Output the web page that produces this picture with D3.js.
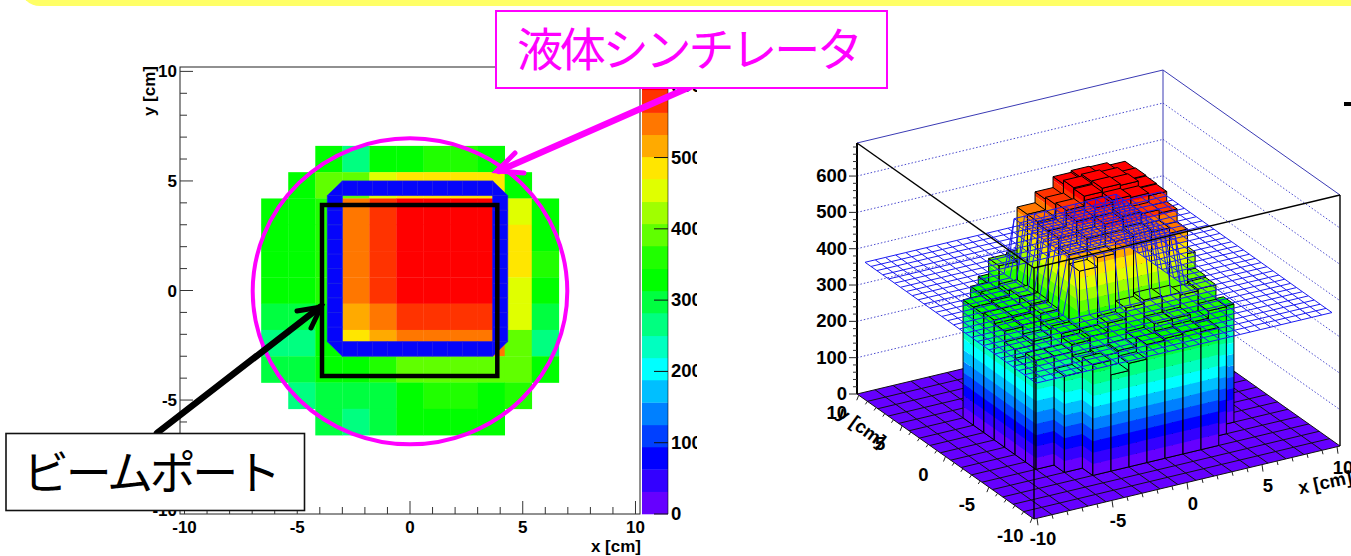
<!DOCTYPE html>
<html>
<head>
<meta charset="utf-8">
<script src="https://cdn.jsdelivr.net/npm/d3@7"></script>
<style>
	html, body { margin: 0; padding: 0; background: #fff; overflow: hidden; }
	svg { display: block; }
	text { font-family: "Liberation Sans", Arial, sans-serif; font-weight: bold; font-size: 17px; fill: #000; }
	.big { font-size: 18.5px; }
	.jp { font-family: "Noto Sans CJK JP", sans-serif; font-weight: 400; font-size: 46px; }
</style>
</head>
<body>
<div id="graph-container"></div>
<script>
// bin values, rows run from y = +6.6 down to y = -6.6
const binValues = [
	[0, 0, 325, 265, 330, 335, 350, 352, 335, 0, 0],
	[0, 330, 395, 400, 450, 480, 482, 480, 478, 330, 0],
	[325, 335, 345, 545, 575, 605, 610, 608, 600, 445, 330],
	[325, 330, 350, 545, 580, 615, 620, 615, 602, 485, 335],
	[330, 330, 350, 540, 585, 612, 622, 618, 600, 485, 350],
	[320, 325, 345, 540, 575, 600, 610, 605, 598, 455, 325],
	[290, 300, 320, 515, 548, 575, 585, 580, 570, 440, 285],
	[265, 265, 330, 490, 515, 548, 555, 550, 535, 395, 260],
	[300, 300, 320, 330, 355, 385, 395, 392, 385, 390, 325],
	[0, 265, 290, 295, 300, 320, 350, 352, 330, 350, 0],
	[0, 0, 305, 265, 285, 325, 330, 335, 325, 0, 0]
];
const binEdges = [-6.6, -5.4, -4.2, -3, -1.8, -0.6, 0.6, 1.8, 3, 4.2, 5.4, 6.6];
const floorEdges = [-10.2, -9, -7.8, -6.6, -5.4, -4.2, -3, -1.8, -0.6, 0.6, 1.8, 3, 4.2, 5.4, 6.6, 7.8, 9, 10.2];
const palette = ["#6600ff", "#3300ff", "#0000ff", "#0040ff", "#0080ff", "#00bfff", "#00ffff", "#00ffc0", "#00ff80", "#00ff40",
	"#00ff00", "#20ff00", "#60ff00", "#a0ff00", "#e0ff00", "#ffe600", "#ffaa00", "#ff7700", "#ff3300", "#ff0000"];
const levelEdges = [0, 31.3, 62.6, 94, 125, 156.5, 188, 219, 250, 282, 313, 344, 376, 407, 438, 470, 501, 532, 563, 595, 627];
const axisTicks = [-10, -5, 0, 5, 10];
const axisMinor = [-9, -8, -7, -6, -4, -3, -2, -1, 1, 2, 3, 4, 6, 7, 8, 9];
const barTicks = [0, 100, 200, 300, 400, 500, 600];
const zMinor = [20, 40, 60, 80, 120, 140, 160, 180, 220, 240, 260, 280, 320, 340, 360, 380, 420, 440, 460, 480, 520, 540, 560, 580, 620, 640, 660, 680];
// wire surface overlay: flat sheet with a raised plate, on a 2/3 cm lattice
const meshCoords = [-9.667, -9, -8.333, -7.667, -7, -6.333, -5.667, -5, -4.333, -3.667, -3, -2.333, -1.667, -1, -0.333,
	0.333, 1, 1.667, 2.333, 3, 3.667, 4.333, 5, 5.667, 6.333, 7, 7.667, 8.333, 9, 9.667];
const meshBase = 365;
const meshPlate = 510;
const plateX = [-3, 3.667];
const plateY = [-2.333, 4.333];

const w = 1351;
const h = 556;

const svg = d3.select("#graph-container").append("svg").attr("width", w).attr("height", h);
const color = d3.scaleThreshold().domain(levelEdges.slice(1, -1)).range(palette);

const isHigh = (x, y) => x >= plateX[0] && x <= plateX[1] && y >= plateY[0] && y <= plateY[1];
const meshZ = (x, y) => isHigh(x, y) ? meshPlate : meshBase;

// banner at top of the slide
svg.append("rect").attr("x", 20).attr("y", -40).attr("width", w).attr("height", 46).attr("rx", 20).attr("fill", "#ffff66");

drawMap();
drawLego();
drawNotes();

function drawMap() {
	const g = svg.append("g");
	const x = d3.scaleLinear().domain([-10.2, 10.2]).range([180, 640]);
	const y = d3.scaleLinear().domain([-10.2, 10.2]).range([514, 67]);
	const z = d3.scaleLinear().domain([0, 627]).range([514, 67]);

	// colz cells
	const cells = [];
	binValues.forEach((row, r) => row.forEach((v, c) => { if (v > 0) cells.push({ r, c, v }); }));
	g.selectAll("rect.cell").data(cells).enter().append("rect")
		.attr("class", "cell")
		.attr("x", d => x(binEdges[d.c]))
		.attr("width", d => x(binEdges[d.c + 1]) - x(binEdges[d.c]) + 0.3)
		.attr("y", d => y(binEdges[11 - d.r]))
		.attr("height", d => y(binEdges[10 - d.r]) - y(binEdges[11 - d.r]) + 0.3)
		.attr("fill", d => color(d.v));

	// sloped part of the wire surface seen from above
	const quads = [];
	for (let i = 0; i < meshCoords.length - 1; i++) {
		for (let j = 0; j < meshCoords.length - 1; j++) {
			const pts = [[meshCoords[i], meshCoords[j]], [meshCoords[i + 1], meshCoords[j]], [meshCoords[i + 1], meshCoords[j + 1]], [meshCoords[i], meshCoords[j + 1]]];
			const high = pts.map(p => isHigh(p[0], p[1]));
			const n = high.filter(Boolean).length;
			if (n === 0 || n === 4) continue;
			quads.push(n === 1 ? pts.filter((p, k) => !high[(k + 2) % 4]) : pts);
		}
	}
	g.selectAll("polygon.wall").data(quads).enter().append("polygon")
		.attr("class", "wall")
		.attr("points", d => d.map(p => [x(p[0]), y(p[1])].join(",")).join(" "))
		.attr("fill", "#0505fa")
		.attr("stroke", "#1c1cee")
		.attr("stroke-width", 0.7);

	// palette
	const bar = svg.append("g");
	bar.selectAll("rect").data(palette).enter().append("rect")
		.attr("x", 642).attr("width", 26)
		.attr("y", (d, i) => z(levelEdges[i + 1]))
		.attr("height", (d, i) => z(levelEdges[i]) - z(levelEdges[i + 1]) + 0.3)
		.attr("fill", d => d);
	bar.append("line").attr("x1", 668).attr("x2", 668).attr("y1", 67).attr("y2", 514).attr("stroke", "#000").attr("stroke-opacity", 0.55);
	bar.selectAll("line.t").data(barTicks).enter().append("line").attr("class", "t")
		.attr("x1", 654).attr("x2", 668).attr("y1", d => z(d)).attr("y2", d => z(d)).attr("stroke", "#111");
	svg.append("clipPath").attr("id", "barclip").append("rect").attr("x", 669).attr("y", 60).attr("width", 28).attr("height", 470);
	bar.append("g").attr("clip-path", "url(#barclip)").selectAll("text").data(barTicks).enter().append("text")
		.attr("class", "big")
		.attr("x", 671).attr("y", d => z(d) + 6).text(d => d);

	// frame and axes
	g.append("rect").attr("x", 180).attr("y", 67).attr("width", 460).attr("height", 447)
		.attr("fill", "none").attr("stroke", "#222").attr("stroke-width", 1);
	g.selectAll("line.xmaj").data(axisTicks).enter().append("line").attr("class", "xmaj")
		.attr("x1", d => x(d)).attr("x2", d => x(d)).attr("y1", 514).attr("y2", 501).attr("stroke", "#333");
	g.selectAll("line.xmin").data(axisMinor).enter().append("line").attr("class", "xmin")
		.attr("x1", d => x(d)).attr("x2", d => x(d)).attr("y1", 514).attr("y2", 507).attr("stroke", "#333");
	g.selectAll("line.ymaj").data(axisTicks).enter().append("line").attr("class", "ymaj")
		.attr("x1", 180).attr("x2", 193).attr("y1", d => y(d)).attr("y2", d => y(d)).attr("stroke", "#333");
	g.selectAll("line.ymin").data(axisMinor).enter().append("line").attr("class", "ymin")
		.attr("x1", 180).attr("x2", 187).attr("y1", d => y(d)).attr("y2", d => y(d)).attr("stroke", "#333");
	g.selectAll("text.xl").data(axisTicks).enter().append("text").attr("class", "xl")
		.attr("x", d => x(d)).attr("y", 533).attr("text-anchor", "middle").text(d => d);
	g.selectAll("text.yl").data(axisTicks).enter().append("text").attr("class", "yl")
		.attr("x", 177).attr("y", d => y(d) + 6).attr("text-anchor", "end").text(d => d);
	g.append("text").attr("x", 641).attr("y", 552).attr("text-anchor", "end").text("x [cm]");
	g.append("text").attr("transform", "translate(155,66) rotate(-90)").attr("text-anchor", "end").text("y [cm]");
}

function drawLego() {
	const g = svg.append("g");
	const u = d3.scaleLinear().domain([-10.2, 10.2]).range([0, 1]);
	const zs = d3.scaleLinear().domain([0, 691]).range([0, 251]);
	// front corner plus two floor vectors
	const px = (a, b) => 1034 + u(a) * 306 - u(b) * 177;
	const py = (a, b, c) => 519 - u(a) * 73 - u(b) * 125 - zs(c);
	const pt = (a, b, c) => [px(a, b), py(a, b, c)].join(",");

	const xMin = -10.2, xMax = 10.2, zTop = 691;

	// back walls with dotted z lines
	const wallLines = barTicks.slice(1);
	g.selectAll("line.wl").data(wallLines).enter().append("line").attr("class", "wl")
		.attr("x1", px(xMin, xMax)).attr("y1", d => py(xMin, xMax, d))
		.attr("x2", px(xMax, xMax)).attr("y2", d => py(xMax, xMax, d))
		.attr("stroke", "#3535c8").attr("stroke-dasharray", "1.5,2").attr("stroke-width", 0.9);
	g.selectAll("line.wr").data(wallLines).enter().append("line").attr("class", "wr")
		.attr("x1", px(xMax, xMax)).attr("y1", d => py(xMax, xMax, d))
		.attr("x2", px(xMax, xMin)).attr("y2", d => py(xMax, xMin, d))
		.attr("stroke", "#3535c8").attr("stroke-dasharray", "1.5,2").attr("stroke-width", 0.9);
	const backEdges = [
		[xMin, xMax, zTop, xMax, xMax, zTop],
		[xMax, xMax, zTop, xMax, xMin, zTop],
		[xMax, xMax, 0, xMax, xMax, zTop]
	];
	g.selectAll("line.be").data(backEdges).enter().append("line").attr("class", "be")
		.attr("x1", d => px(d[0], d[1])).attr("y1", d => py(d[0], d[1], d[2]))
		.attr("x2", d => px(d[3], d[4])).attr("y2", d => py(d[3], d[4], d[5]))
		.attr("stroke", "#3a3ab4");

	// floor
	g.append("polygon")
		.attr("points", [pt(xMin, xMin, 0), pt(xMax, xMin, 0), pt(xMax, xMax, 0), pt(xMin, xMax, 0)].join(" "))
		.attr("fill", palette[0]);
	g.selectAll("line.fx").data(floorEdges).enter().append("line").attr("class", "fx")
		.attr("x1", d => px(d, xMin)).attr("y1", d => py(d, xMin, 0))
		.attr("x2", d => px(d, xMax)).attr("y2", d => py(d, xMax, 0))
		.attr("stroke", "#111");
	g.selectAll("line.fy").data(floorEdges).enter().append("line").attr("class", "fy")
		.attr("x1", d => px(xMin, d)).attr("y1", d => py(xMin, d, 0))
		.attr("x2", d => px(xMax, d)).attr("y2", d => py(xMax, d, 0))
		.attr("stroke", "#111");

	// bars, back to front so the nearer ones paint over
	const faces = [];
	for (let c = 10; c >= 0; c--) {
		for (let r = 0; r <= 10; r++) {
			const v = binValues[r][c];
			if (v <= 0) continue;
			const x0 = binEdges[c], x1 = binEdges[c + 1], y0 = binEdges[10 - r], y1 = binEdges[11 - r];
			levelEdges.slice(0, -1).forEach((lo, i) => {
				if (lo >= v) return;
				const hi = Math.min(levelEdges[i + 1], v);
				faces.push({ fill: palette[i], stroke: "none", pts: [pt(x0, y0, lo), pt(x0, y1, lo), pt(x0, y1, hi), pt(x0, y0, hi)] });
				faces.push({ fill: palette[i], stroke: "none", pts: [pt(x0, y0, lo), pt(x1, y0, lo), pt(x1, y0, hi), pt(x0, y0, hi)] });
			});
			faces.push({ fill: "none", stroke: "#000", pts: [pt(x0, y1, 0), pt(x0, y1, v), pt(x0, y0, v), pt(x0, y0, 0)] });
			faces.push({ fill: "none", stroke: "#000", pts: [pt(x1, y0, 0), pt(x1, y0, v), pt(x0, y0, v), pt(x0, y0, 0)] });
			faces.push({ fill: color(v), stroke: "#000", pts: [pt(x0, y0, v), pt(x1, y0, v), pt(x1, y1, v), pt(x0, y1, v)] });
		}
	}
	g.selectAll("polyline.face").data(faces).enter().append("polygon").attr("class", "face")
		.attr("points", d => d.pts.join(" "))
		.attr("fill", d => d.fill)
		.attr("stroke", d => d.stroke)
		.attr("stroke-width", 1)
		.attr("stroke-linejoin", "round");

	// wire surface over the bars, drawn a touch wider than the lattice
	const meshStretch = 1.02;
	const meshLine = d3.line()
		.x(d => px(d[0] * meshStretch, d[1] * meshStretch))
		.y(d => py(d[0] * meshStretch, d[1] * meshStretch, meshZ(d[0], d[1])));
	const wires = [];
	meshCoords.forEach(a => {
		wires.push(meshCoords.map(b => [a, b]));
		wires.push(meshCoords.map(b => [b, a]));
	});
	g.selectAll("path.wire").data(wires).enter().append("path").attr("class", "wire")
		.attr("d", meshLine).attr("fill", "none").attr("stroke", "#1a1af2").attr("stroke-width", 1);

	// front box edges
	const frontEdges = [
		[xMin, xMax, zTop, xMin, xMin, zTop],
		[xMin, xMin, zTop, xMax, xMin, zTop],
		[xMin, xMin, 0, xMin, xMin, zTop],
		[xMax, xMin, 0, xMax, xMin, zTop]
	];
	g.selectAll("line.fe").data(frontEdges).enter().append("line").attr("class", "fe")
		.attr("x1", d => px(d[0], d[1])).attr("y1", d => py(d[0], d[1], d[2]))
		.attr("x2", d => px(d[3], d[4])).attr("y2", d => py(d[3], d[4], d[5]))
		.attr("stroke", "#000").attr("stroke-width", 1.4);
	g.append("line").attr("x1", px(xMin, xMax)).attr("x2", px(xMin, xMax))
		.attr("y1", py(xMin, xMax, 0)).attr("y2", py(xMin, xMax, zTop))
		.attr("stroke", "#000").attr("stroke-width", 2);

	// z axis
	const zx = px(xMin, xMax), zy = py(xMin, xMax, 0);
	g.selectAll("line.zmaj").data(barTicks).enter().append("line").attr("class", "zmaj")
		.attr("x1", zx).attr("x2", zx - 8).attr("y1", d => zy - zs(d)).attr("y2", d => zy - zs(d)).attr("stroke", "#222");
	g.selectAll("line.zmin").data(zMinor).enter().append("line").attr("class", "zmin")
		.attr("x1", zx).attr("x2", zx - 4).attr("y1", d => zy - zs(d)).attr("y2", d => zy - zs(d)).attr("stroke", "#333");
	g.selectAll("text.zl").data(barTicks).enter().append("text").attr("class", "zl big")
		.attr("x", zx - 10).attr("y", d => zy - zs(d) + 6).attr("text-anchor", "end").text(d => d);

	// floor axes: ticks and labels
	const tickAll = axisTicks.concat(axisMinor);
	g.selectAll("line.xt").data(tickAll).enter().append("line").attr("class", "xt")
		.attr("x1", d => px(d, xMin)).attr("y1", d => py(d, xMin, 0))
		.attr("x2", d => px(d, xMin) + 1).attr("y2", d => py(d, xMin, 0) + (axisTicks.includes(d) ? 7 : 4))
		.attr("stroke", "#222");
	g.selectAll("line.yt").data(tickAll).enter().append("line").attr("class", "yt")
		.attr("x1", d => px(xMin, d)).attr("y1", d => py(xMin, d, 0))
		.attr("x2", d => px(xMin, d) - 2).attr("y2", d => py(xMin, d, 0) + (axisTicks.includes(d) ? 5 : 3))
		.attr("stroke", "#222");
	g.selectAll("text.xfl").data(axisTicks).enter().append("text").attr("class", "xfl big")
		.attr("x", d => px(d, xMin) + 6).attr("y", d => py(d, xMin, 0) + 27).attr("text-anchor", "middle").text(d => d);
	g.selectAll("text.yfl").data(axisTicks).enter().append("text").attr("class", "yfl big")
		.attr("x", d => px(xMin, d) - 22).attr("y", d => py(xMin, d, 0) + 24).attr("text-anchor", "middle").text(d => d);
	g.append("text").attr("class", "big").attr("transform", "translate(1353,483) rotate(-12)").attr("text-anchor", "end").text("x [cm]");
	g.append("text").attr("class", "big").attr("transform", "translate(836,416) rotate(36)").text("y [cm]");
	g.append("rect").attr("x", 1344).attr("y", 102).attr("width", 7).attr("height", 4).attr("fill", "#000");
}

function drawNotes() {
	const g = svg.append("g");
	// beam port square and scintillator outline
	g.append("rect").attr("x", 322).attr("y", 205).attr("width", 175.3).attr("height", 171)
		.attr("fill", "none").attr("stroke", "#000").attr("stroke-width", 4.5);
	g.append("ellipse").attr("cx", 410).attr("cy", 291.3).attr("rx", 157.3).attr("ry", 153)
		.attr("fill", "none").attr("stroke", "#ff00ff").attr("stroke-width", 4);

	const arrow = (col, shaft, barbs) => {
		const a = g.append("g").attr("stroke", col).attr("stroke-linecap", "round").attr("fill", "none");
		a.append("path").attr("d", d3.line()(shaft)).attr("stroke-width", 6.5);
		a.append("path").attr("d", d3.line()(barbs)).attr("stroke-width", 5);
	};
	arrow("#ff00ff", [[690, 87], [499, 171]], [[515, 153], [497, 171], [524, 173]]);
	arrow("#000", [[157, 433], [320, 307]], [[297, 311], [321, 307], [311, 328]]);

	g.append("rect").attr("x", 6).attr("y", 433.5).attr("width", 298.5).attr("height", 77)
		.attr("fill", "#fff").attr("stroke", "#111").attr("stroke-width", 1.6);
	g.append("text").attr("class", "jp").attr("x", 23).attr("y", 489).attr("textLength", 258).text("ビームポート");
	g.append("rect").attr("x", 496).attr("y", 11).attr("width", 391).attr("height", 77)
		.attr("fill", "#fff").attr("stroke", "#ff00ff").attr("stroke-width", 2);
	g.append("text").attr("class", "jp").attr("x", 517).attr("y", 66).attr("textLength", 346)
		.style("fill", "#ff00ff").text("液体シンチレータ");
}
</script>
</body>
</html>
